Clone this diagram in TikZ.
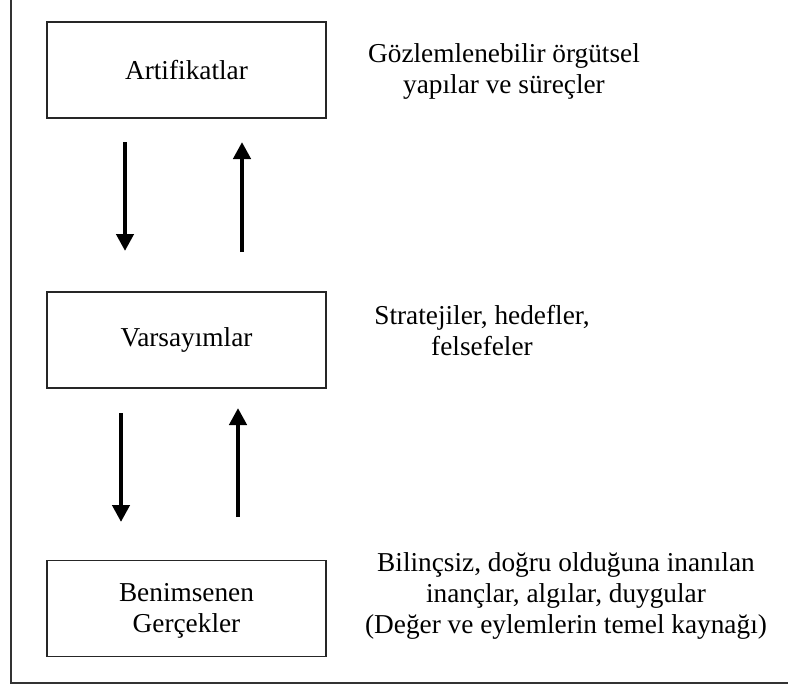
\documentclass[tikz,border=0pt]{standalone}
\usepackage{fontspec}
\setmainfont{Liberation Serif}
\usetikzlibrary{arrows.meta}
\begin{document}
\begin{tikzpicture}[x=1pt,y=-1pt,
  level/.style={draw=black!85,line width=1.6pt,minimum width=279pt,minimum height=96pt,
    inner sep=0pt,align=center,font=\fontsize{27.3}{31}\selectfont},
  note/.style={inner sep=0pt,align=center,anchor=base,font=\fontsize{27.3}{31}\selectfont},
  flow/.style={line width=4.6pt,-{Triangle[width=17pt,length=17pt]}}]
\useasboundingbox (0,0) rectangle (788,686);
% outer frame (top and right edges run past the page)
\draw[black!80,line width=1.8pt] (11,-20) -- (11,683) -- (810,683);

% the three levels
\node[level] (art) at (186.5,70) {Artifikatlar};
\node[level] (var) at (186.5,340) {Varsayımlar};
\node[level] (ben) at (186.5,608.5) {};
\node[note] (bent) at (186.5,632) {Benimsenen\\Gerçekler};

% descriptions (anchored at the baseline of their last line)
\node[note] (artd) at (504,93) {Gözlemlenebilir örgütsel\\yapılar ve süreçler};
\node[note] (vard) at (482,355) {Stratejiler, hedefler,\\felsefeler};
\node[note] (bend) at (566,633) {Bilinçsiz, doğru olduğuna inanılan\\inançlar, algılar, duygular\\(Değer ve eylemlerin temel kaynağı)};

% arrow ends between the levels
\coordinate (d1a) at (125,142);
\coordinate (d1b) at (125,251);
\coordinate (u1a) at (242,252);
\coordinate (u1b) at (242,142);
\coordinate (d2a) at (121,413);
\coordinate (d2b) at (121,522);
\coordinate (u2a) at (238,517);
\coordinate (u2b) at (238,408);

\draw[flow] (d1a) -- (d1b);
\draw[flow] (u1a) -- (u1b);
\draw[flow] (d2a) -- (d2b);
\draw[flow] (u2a) -- (u2b);
\end{tikzpicture}
\end{document}
